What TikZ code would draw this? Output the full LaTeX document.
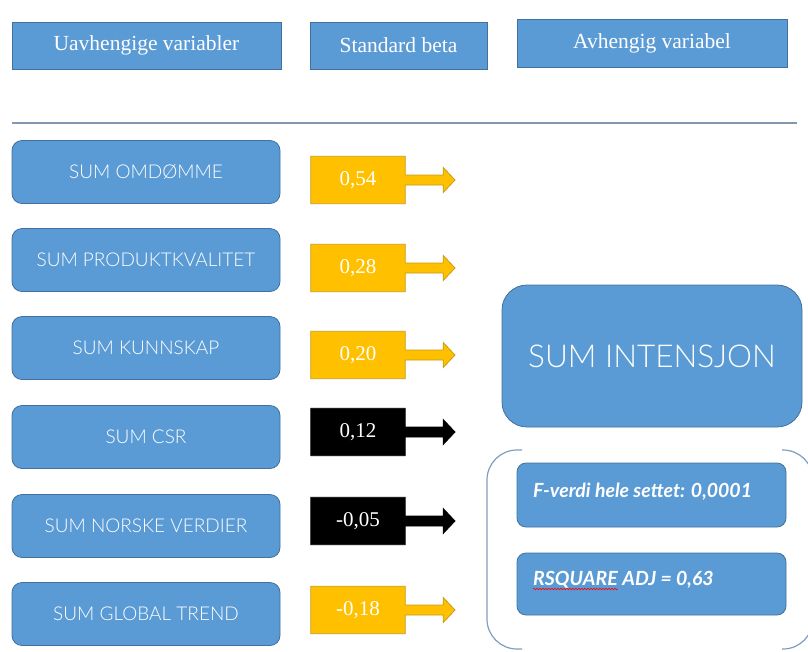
\documentclass[tikz,border=0pt]{standalone}
\usepackage{fontspec}
\setmainfont{Liberation Serif}
\newfontfamily\boxfont{Lato}
\newfontfamily\boxlight{Lato Light}
\usetikzlibrary{calc,backgrounds,decorations.pathmorphing}

\definecolor{boxblue}{HTML}{5B9BD5}
\definecolor{boxedge}{HTML}{41719C}
\definecolor{betayellow}{HTML}{FFC000}
\definecolor{betaedge}{HTML}{C99A14}
\definecolor{rulegray}{HTML}{8497B0}
\definecolor{bracketblue}{HTML}{7F9DBF}

% Block arrow outline around a beta value node: box plus arrow to its tip
\newcommand{\betacallout}[4]{%
  \draw[fill=#2, draw=#3, line width=0.8pt, line join=miter]
    (#1.north west) -- (#1.north east) -- ($(#1.east)+(0,-5)$)
    -- ($(#1.east)+(38,-5)$) -- ($(#1.east)+(38,-12.5)$) -- (#4)
    -- ($(#1.east)+(38,12.5)$) -- ($(#1.east)+(38,5)$)
    -- ($(#1.east)+(0,5)$) -- (#1.south east) -- (#1.south west) -- cycle;}

\begin{document}
\begin{tikzpicture}[x=1pt,y=-1pt,
  header/.style={rectangle, fill=boxblue, draw=boxedge, line width=0.8pt,
    minimum height=47pt, inner sep=0pt, text=white,
    font=\fontsize{21.5}{25}\selectfont},
  varbox/.style={rectangle, rounded corners=10pt, fill=boxblue, draw=boxedge,
    line width=0.8pt, minimum width=268pt, minimum height=63pt, inner sep=0pt,
    text=white, font=\boxlight\fontsize{19}{23}\selectfont},
  betanode/.style={rectangle, minimum width=94pt, minimum height=47pt,
    inner sep=0pt, text=white, font=\fontsize{21}{25}\selectfont},
  bigbox/.style={rectangle, rounded corners=25pt, fill=boxblue, draw=boxedge,
    line width=0.8pt, minimum width=300pt, minimum height=142pt, inner sep=0pt,
    text=white, font=\boxlight\fontsize{31.5}{36}\selectfont},
  statbox/.style={rectangle, rounded corners=9pt, fill=boxblue, draw=boxedge,
    line width=0.8pt, minimum width=269pt, inner sep=0pt},
  stattext/.style={inner sep=0pt, text=white,
    font=\boxfont\bfseries\itshape\fontsize{19.5}{23}\selectfont},
  bracketline/.style={draw=bracketblue, line width=1.2pt, rounded corners=30pt},
]
\useasboundingbox (0,0) rectangle (808,651);

% column headings
\node[header, minimum width=269pt] (h1) at (146.5,45.5) {Uavhengige variabler};
\node[header, minimum width=177pt] (h2) at (398.5,45.5) {Standard beta};
\node[header, minimum width=270pt, minimum height=48pt] (h3) at (652,43) {Avhengig variabel};

% separator rule
\coordinate (ruleL) at (12,123);
\coordinate (ruleR) at (797,123);
\draw[rulegray, line width=1.5pt] (ruleL) -- (ruleR);

% independent variables
\node[varbox] (x1) at (146,172) {SUM OMDØMME};
\node[varbox] (x2) at (146,260) {SUM PRODUKTKVALITET};
\node[varbox] (x3) at (146,348) {SUM KUNNSKAP};
\node[varbox] (x4) at (146,437) {SUM CSR};
\node[varbox] (x5) at (146,526) {SUM NORSKE VERDIER};
\node[varbox] (x6) at (146,614) {SUM GLOBAL TREND};

% standardised beta values
\node[betanode] (b1) at (358,180) {\raisebox{-3pt}{0,54}};
\node[betanode] (b2) at (358,268) {\raisebox{-3pt}{0,28}};
\node[betanode] (b3) at (358,355) {\raisebox{-3pt}{0,20}};
\node[betanode] (b4) at (358,432) {0,12};
\node[betanode] (b5) at (358,521) {-0,05};
\node[betanode] (b6) at (358,610) {-0,18};

\coordinate (t1) at (455,180);
\coordinate (t2) at (455,268);
\coordinate (t3) at (455,355);
\coordinate (t4) at (455,432);
\coordinate (t5) at (455,521);
\coordinate (t6) at (455,610);

\begin{pgfonlayer}{background}
  \betacallout{b1}{betayellow}{betaedge}{t1}
  \betacallout{b2}{betayellow}{betaedge}{t2}
  \betacallout{b3}{betayellow}{betaedge}{t3}
  \betacallout{b4}{black}{black}{t4}
  \betacallout{b5}{black}{black}{t5}
  \betacallout{b6}{betayellow}{betaedge}{t6}
\end{pgfonlayer}

% dependent variable
\node[bigbox] (y) at (652,356) {SUM INTENSJON};

% model statistics inside a double bracket
\draw[bracketline] (522,450) -- (487,450) -- (487,649) -- (522,649);
\draw[bracketline] (782,450) -- (813,450) -- (813,649) -- (782,649);

\node[statbox, minimum height=64pt] (fbox) at (651.5,495) {};
\node[stattext, anchor=base west] (ftxt) at (533,497) {F-verdi hele settet: 0,0001};

\node[statbox, minimum height=62pt] (rbox) at (651.5,584) {};
\node[stattext, anchor=base west] (rsq) at (533,585) {RSQUARE};
\node[stattext, anchor=base west] (rrest) at (rsq.base east) {\ ADJ = 0,63};
\draw[red, line width=0.6pt, decorate,
      decoration={snake, amplitude=0.8pt, segment length=3pt}]
  ($(rsq.base west)+(0,4)$) -- ($(rsq.base east)+(0,4)$);
\end{tikzpicture}
\end{document}
